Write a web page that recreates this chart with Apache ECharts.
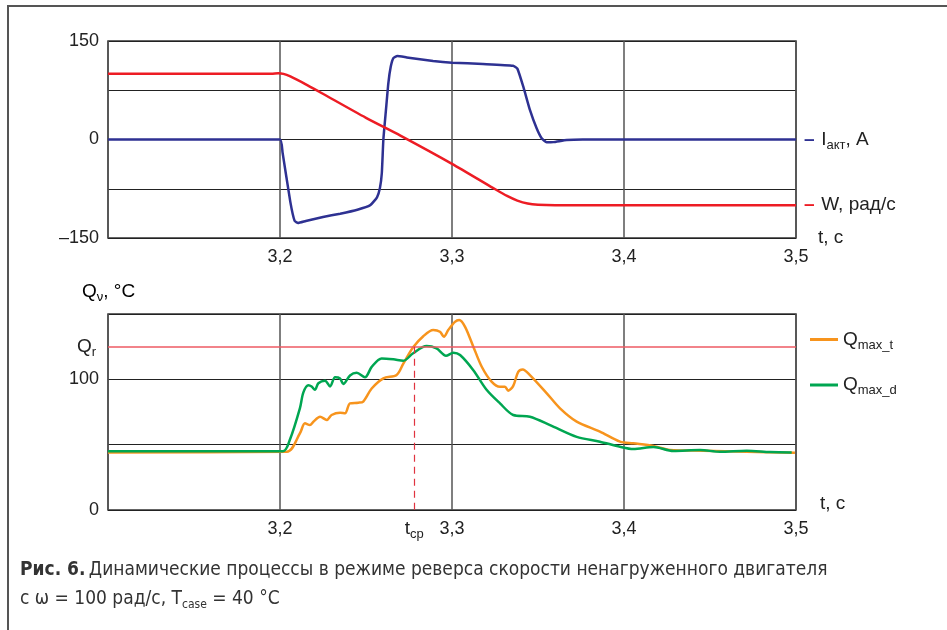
<!DOCTYPE html>
<html>
<head>
<meta charset="utf-8">
<script src="https://cdn.jsdelivr.net/npm/echarts@6/dist/echarts.min.js"></script>
<style>
  html, body { margin: 0; padding: 0; background: #fff; }
  #main { width: 947px; height: 630px; }
</style>
</head>
<body>
<div id="main"></div>
<script>
// время, с
var tMin = 3.1, tMax = 3.5, tStep = 0.1;

// ток Iакт, А
var iTime = [3.1, 3.2, 3.2015, 3.206, 3.2085, 3.2105, 3.215, 3.225, 3.235, 3.245, 3.2525, 3.2564, 3.2581, 3.2592, 3.2601, 3.2616, 3.263, 3.2644, 3.2659, 3.2682, 3.2737, 3.289, 3.3, 3.318, 3.3355, 3.338, 3.3415, 3.3453, 3.3492, 3.3521, 3.355, 3.3589, 3.3667, 3.376, 3.5];
var iValues = [0, 0, -20, -95, -124, -127, -124, -118, -113, -107, -100, -88, -74, -51, 0, 45, 86, 111, 124, 127, 125, 119.6, 117, 115, 112.4, 108, 80, 45, 17, 2, -4.3, -4, -0.8, 0, 0];

// скорость W, рад/с
var wTime = [3.1, 3.195, 3.199, 3.202, 3.206, 3.215, 3.2233, 3.25, 3.27, 3.3, 3.324, 3.332, 3.338, 3.344, 3.35, 3.36, 3.5];
var wValues = [100, 100, 101, 100, 96, 84, 72, 33, 6, -37, -74, -86, -93, -97.5, -99.3, -100, -100];

// температура Qmax_t, °C
var qtTime = [3.1, 3.2039, 3.2116, 3.2145, 3.2174, 3.2194, 3.2233, 3.2272, 3.23, 3.2349, 3.2378, 3.2407, 3.2455, 3.2484, 3.2533, 3.2601, 3.2678, 3.2717, 3.2774, 3.2833, 3.2891, 3.293, 3.2953, 3.2978, 3.3017, 3.3042, 3.3076, 3.3124, 3.3173, 3.323, 3.3279, 3.3308, 3.3327, 3.3356, 3.3385, 3.3411, 3.3453, 3.3551, 3.3628, 3.3725, 3.386, 3.3977, 3.4054, 3.4171, 3.4267, 3.4461, 3.4713, 3.4994];
var qtValues = [44, 44.6, 58.7, 66.3, 65, 67.6, 71.4, 68.9, 72.7, 74.4, 74, 81.6, 82.1, 83, 93, 100.8, 103.3, 112, 124.5, 133, 137.7, 136.4, 132.6, 137.7, 144, 145.4, 140.2, 125, 109.6, 98.2, 94.3, 94.3, 91.3, 95, 105.8, 107.6, 103.3, 89.3, 77.8, 67.6, 60, 52.3, 51, 49, 46, 45.4, 44.6, 43.8];

// температура Qmax_d, °C
var qdTime = [3.1, 3.2017, 3.2058, 3.2116, 3.2136, 3.2165, 3.2184, 3.2203, 3.2223, 3.2262, 3.2291, 3.232, 3.2349, 3.2368, 3.2407, 3.2446, 3.2494, 3.2533, 3.2591, 3.2659, 3.2717, 3.2774, 3.2852, 3.291, 3.2965, 3.3008, 3.3047, 3.3124, 3.3201, 3.3279, 3.3356, 3.3453, 3.357, 3.3725, 3.386, 3.3977, 3.4054, 3.4171, 3.4287, 3.4442, 3.4558, 3.4713, 3.4849, 3.4975];
var qdValues = [45, 45, 54, 78, 90, 95.5, 94.5, 92, 97, 99, 94.5, 101.5, 100.7, 96.5, 103, 105, 101.5, 109.5, 116, 115.3, 114.2, 120, 125.5, 123.7, 118, 120.4, 118.6, 107, 92, 81.6, 72.7, 71.4, 65, 56, 52.3, 48.4, 46.7, 48.2, 45.2, 45.9, 44.6, 45.4, 44.4, 44.1];

var qR = 125;      // предельная температура Qr
var tCp = 3.278;   // момент tср

function zip(a, b) {
    var out = [];
    for (var k = 0; k < a.length; k++) out.push([a[k], b[k]]);
    return out;
}

var FONT = '"Liberation Sans", Arial, sans-serif';
var NARROW = '"Liberation Sans Narrow", "DejaVu Sans Condensed", sans-serif';
var BLUE = '#2e3192', RED = '#ed1c24', ORANGE = '#f7941d', GREEN = '#00a651', PINK = '#ee5a63';

function tLabel(v) {
    if (Math.abs(v - tMin) < 1e-6) return '';
    return v.toFixed(1).replace('.', ',');
}

var labelStyle = { color: '#222', fontSize: 18, fontFamily: FONT };
var subRich = {
    n: { fontSize: 19, fontFamily: FONT, color: '#222' },
    s: { fontSize: 13, fontFamily: FONT, color: '#222', padding: [11, 0, 0, 0] }
};

var myChart = echarts.init(document.getElementById('main'));

var option = {
    animation: false,
    backgroundColor: '#fff',
    grid: [
        { left: 108, top: 41, width: 688, height: 197, show: true, borderColor: '#333', borderWidth: 1.5 },
        { left: 108, top: 314, width: 688, height: 196, show: true, borderColor: '#333', borderWidth: 1.5 }
    ],
    xAxis: [0, 1].map(function (g) {
        return {
            type: 'value', gridIndex: g, min: tMin, max: tMax, interval: tStep,
            axisLine: { show: false }, axisTick: { show: false },
            axisLabel: Object.assign({ margin: 10, formatter: tLabel, showMinLabel: false }, labelStyle),
            splitLine: { show: true, lineStyle: { color: '#555', width: 1.5 } }
        };
    }),
    yAxis: [
        {
            type: 'value', gridIndex: 0, min: -150, max: 150, interval: 75,
            axisLine: { show: false }, axisTick: { show: false },
            axisLabel: Object.assign({ margin: 9, formatter: function (v) {
                if (v === 150) return '150';
                if (v === 0) return '0';
                if (v === -150) return '\u2013150';
                return '';
            } }, labelStyle),
            splitLine: { show: true, lineStyle: { color: '#222', width: 1.2 } }
        },
        {
            type: 'value', gridIndex: 1, min: 0, max: 150, interval: 50,
            axisLine: { show: false }, axisTick: { show: false },
            axisLabel: Object.assign({ margin: 9, formatter: function (v) {
                return (v === 0 || v === 100) ? String(v) : '';
            } }, labelStyle),
            splitLine: { show: true, lineStyle: { color: '#222', width: 1.2 } }
        }
    ],
    legend: {
        data: ['Qmax_t', 'Qmax_d'],
        orient: 'vertical', left: 805, top: 325, itemGap: 24,
        icon: 'rect', itemWidth: 28, itemHeight: 3,
        formatter: function (name) {
            return name === 'Qmax_t' ? '{n|Q}{s|max_t}' : '{n|Q}{s|max_d}';
        },
        textStyle: { rich: subRich }
    },
    series: [
        {
            name: 'Iакт', type: 'line', xAxisIndex: 0, yAxisIndex: 0,
            data: zip(iTime, iValues), showSymbol: false, smooth: 0.15,
            lineStyle: { color: BLUE, width: 2.5 }, itemStyle: { color: BLUE },
            endLabel: {
                show: true, distance: 8,
                formatter: '{d|\u2013}  {n|I}{s|акт}{n|, A}',
                rich: Object.assign({ d: { color: BLUE, fontSize: 19, fontWeight: 'bold' } }, subRich)
            }
        },
        {
            name: 'W', type: 'line', xAxisIndex: 0, yAxisIndex: 0,
            data: zip(wTime, wValues), showSymbol: false, smooth: 0.25,
            lineStyle: { color: RED, width: 2.5 }, itemStyle: { color: RED },
            endLabel: {
                show: true, distance: 8,
                formatter: '{d|\u2013}  {n|W, рад/с}',
                rich: Object.assign({ d: { color: RED, fontSize: 19, fontWeight: 'bold' } }, subRich)
            }
        },
        {
            name: 'Qmax_t', type: 'line', xAxisIndex: 1, yAxisIndex: 1,
            data: zip(qtTime, qtValues), showSymbol: false, smooth: 0.3, z: 3,
            lineStyle: { color: ORANGE, width: 2.5 }, itemStyle: { color: ORANGE },
            markLine: {
                silent: true, symbol: 'none', animation: false,
                data: [
                    {
                        yAxis: qR,
                        lineStyle: { color: PINK, width: 1.5, type: 'solid' },
                        label: { show: true, position: 'start', distance: 12, formatter: '{n|Q}{s|r}', rich: subRich }
                    },
                    [
                        { coord: [tCp, qR], lineStyle: { color: '#e0333f', width: 1.2, type: [7, 5] },
                          label: { show: true, position: 'end', distance: 7, formatter: '{n|t}{s|ср}', rich: subRich } },
                        { coord: [tCp, 0] }
                    ]
                ]
            }
        },
        {
            name: 'Qmax_d', type: 'line', xAxisIndex: 1, yAxisIndex: 1,
            data: zip(qdTime, qdValues), showSymbol: false, smooth: 0.3, z: 3,
            lineStyle: { color: GREEN, width: 2.5 }, itemStyle: { color: GREEN }
        }
    ],
    graphic: [
        { type: 'polyline', shape: { points: [[8, 630], [8, 6], [947, 6]] }, style: { stroke: '#555', lineWidth: 2, fill: null } },
        { type: 'text', left: 818, top: 228, style: { text: 't, c', fontSize: 19, fontFamily: FONT, fill: '#222' } },
        { type: 'text', left: 820, top: 494, style: { text: 't, c', fontSize: 19, fontFamily: FONT, fill: '#222' } },
        { type: 'text', left: 82, top: 282, style: { text: '{n|Q}{s|\u03bd}{n|, \u00b0C}', rich: subRich } },
        { type: 'text', left: 20, top: 561, style: {
            text: '{b|Рис. 6.} {r|Динамические процессы в режиме реверса скорости ненагруженного двигателя}',
            rich: {
                b: { fontSize: 19, fontFamily: NARROW, fontWeight: 'bold', fill: '#333' },
                r: { fontSize: 19, fontFamily: NARROW, fill: '#333' }
            } } },
        { type: 'text', left: 20, top: 590, style: {
            text: '{r|с \u03c9 = 100 рад/с, T}{s|case}{r| = 40 \u00b0C}',
            rich: {
                r: { fontSize: 19, fontFamily: NARROW, fill: '#333' },
                s: { fontSize: 12, fontFamily: NARROW, fill: '#333', padding: [10, 0, 0, 0] }
            } } }
    ]
};

myChart.setOption(option);
</script>
</body>
</html>
